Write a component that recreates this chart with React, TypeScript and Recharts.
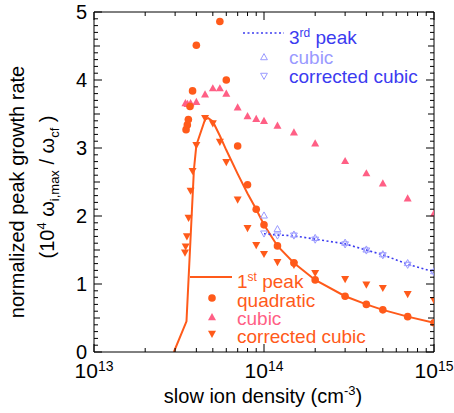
import React from "react"
import { ComposedChart, Line, Scatter, XAxis, YAxis } from "recharts"

const FONT = '"Liberation Sans", Arial, Helvetica, sans-serif'
const ORANGE = "#ff5a1a"
const PINK = "#ff5f85"
const LAVENDER = "#9a9aff"
const BLUE = "#3b3bf0"

// axes
const X_DECADES = [1e13, 1e14]
const X_MANTISSAS = [1, 2, 3, 4, 5, 6, 7, 8, 9]

// 1st peak (solid curve)
const peak1Density = [2.95e13, 3.5e13, 3.87e13, 4e13, 4.5e13, 4.7e13, 5e13, 5.5e13, 6e13, 7e13, 8e13, 9e13, 1e14, 1.2e14, 1.5e14, 2e14, 3e14, 4e14, 5e14, 7e14, 1e15]
const peak1Rate = [0, 0.45, 2.68, 3.04, 3.42, 3.44, 3.39, 3.18, 2.97, 2.62, 2.33, 2.1, 1.87, 1.56, 1.31, 1.06, 0.82, 0.7, 0.62, 0.52, 0.43]

// 1st peak, quadratic
const quadDensity = [3.48e13, 3.54e13, 3.59e13, 3.67e13, 3.8e13, 4e13, 5.5e13, 6e13, 7e13, 8e13, 9e13, 1e14, 1.2e14, 1.5e14, 2e14, 3e14, 4e14, 5e14, 7e14, 1e15]
const quadRate = [3.27, 3.34, 3.42, 3.61, 3.84, 4.51, 4.86, 4.0, 3.03, 2.46, 2.1, 1.87, 1.56, 1.31, 1.06, 0.82, 0.7, 0.62, 0.52, 0.43]

// 1st peak, cubic
const cubicDensity = [3.45e13, 3.55e13, 3.7e13, 4e13, 4.5e13, 5e13, 5.5e13, 6e13, 7e13, 8e13, 9e13, 1e14, 1.2e14, 1.5e14, 2e14, 3e14, 4e14, 5e14, 7e14, 1e15]
const cubicRate = [3.66, 3.65, 3.66, 3.68, 3.79, 3.88, 3.88, 3.8, 3.6, 3.47, 3.43, 3.4, 3.33, 3.23, 3.07, 2.81, 2.63, 2.48, 2.26, 2.04]

// 1st peak, corrected cubic
const corrDensity = [3.43e13, 3.46e13, 3.52e13, 3.6e13, 3.7e13, 3.8e13, 4e13, 4.5e13, 5e13, 5.5e13, 6e13, 7e13, 8e13, 9e13, 1e14, 1.2e14, 1.5e14, 2e14, 3e14, 4e14, 5e14, 7e14, 1e15]
const corrRate = [1.46, 1.55, 1.7, 1.97, 2.37, 2.66, 3.04, 3.44, 3.36, 3.09, 2.79, 2.24, 1.82, 1.57, 1.44, 1.32, 1.28, 1.16, 1.07, 0.99, 0.94, 0.85, 0.76]

// 3rd peak
const peak3Density = [1e14, 1.2e14, 1.5e14, 2e14, 3e14, 4e14, 5e14, 7e14, 1e15]
const peak3Rate = [1.74, 1.72, 1.71, 1.66, 1.59, 1.5, 1.43, 1.29, 1.18]
const cubic3Rate = [2.01, 1.81, 1.73, 1.68, 1.61, 1.51, 1.44, 1.31, 1.19]
const corr3Rate = [1.74, 1.71, 1.71, 1.65, 1.58, 1.49, 1.42, 1.28, 1.17]

const zip = (xs: number[], ys: number[]) => xs.map((x, i) => ({ x, y: ys[i] }))

const X_TICKS = [...X_DECADES.flatMap((d) => X_MANTISSAS.map((m) => m * d)), 1e15]
const Y_TICKS: number[] = []
for (let i = 0; i <= 50; i++) Y_TICKS.push(i / 10)

const isDecade = (v: number) => Math.abs(Math.log10(v) - Math.round(Math.log10(v))) < 1e-6
const yTickLen = (v: number) => {
  const t = Math.round(v * 10)
  if (t % 10 === 0) return 8
  if (t % 5 === 0) return 6
  return 4
}

// ticks point inwards: each custom tick draws a thin bar plus its label
function BottomTick({ x, y, payload }: any) {
  const v = payload.value
  const major = isDecade(v)
  const len = major ? 8 : 4
  return (
    <g>
      <rect x={x - 0.5} y={y - len} width={1} height={len} fill="#000" />
      {major && (
        <text x={x} y={y + 26} textAnchor="middle" fontSize={21} fontFamily={FONT} fill="#000">
          10<tspan dy={-7} fontSize={14}>{Math.round(Math.log10(v))}</tspan>
        </text>
      )}
    </g>
  )
}

function TopTick({ x, y, payload }: any) {
  const len = isDecade(payload.value) ? 8 : 4
  return <rect x={x - 0.5} y={y} width={1} height={len} fill="#000" />
}

function LeftTick({ x, y, payload }: any) {
  const v = payload.value
  const major = Math.round(v * 10) % 10 === 0
  return (
    <g>
      <rect x={x} y={y - 0.5} width={yTickLen(v)} height={1} fill="#000" />
      {major && (
        <text x={x - 7} y={y + 7} textAnchor="end" fontSize={20} fontFamily={FONT} fill="#000">
          {Math.round(v)}
        </text>
      )}
    </g>
  )
}

function RightTick({ x, y, payload }: any) {
  const len = yTickLen(payload.value)
  return <rect x={x - len} y={y - 0.5} width={len} height={1} fill="#000" />
}

const Dot = ({ cx, cy, r = 3.8 }: any) => <circle cx={cx} cy={cy} r={r} fill={ORANGE} />
const TriUp = ({ cx, cy, fill, stroke, s = 4 }: any) => (
  <polygon
    points={`${cx},${cy - s} ${cx + s},${cy + s * 0.8} ${cx - s},${cy + s * 0.8}`}
    fill={fill || "none"}
    stroke={stroke || "none"}
  />
)
const TriDown = ({ cx, cy, fill, stroke, s = 4 }: any) => (
  <polygon
    points={`${cx - s},${cy - s * 0.8} ${cx + s},${cy - s * 0.8} ${cx},${cy + s}`}
    fill={fill || "none"}
    stroke={stroke || "none"}
  />
)

export default function App() {
  const axisProps = { xAxisId: "b", yAxisId: "l" }
  return (
    <div style={{ position: "absolute", left: 0, top: 0, width: 454, height: 413, background: "#fff" }}>
      <ComposedChart width={454} height={413} margin={{ top: 11, right: 19, bottom: 31, left: 34 }}>
        <XAxis
          xAxisId="b"
          type="number"
          dataKey="x"
          scale="log"
          domain={[1e13, 1e15]}
          allowDataOverflow
          ticks={X_TICKS}
          interval={0}
          tickSize={0}
          tickMargin={0}
          tickLine={false}
          height={30}
          stroke="#000"
          tick={(p: any) => <BottomTick {...p} />}
        />
        <XAxis
          xAxisId="t"
          orientation="top"
          type="number"
          dataKey="x"
          scale="log"
          domain={[1e13, 1e15]}
          allowDataOverflow
          ticks={X_TICKS}
          interval={0}
          tickSize={0}
          tickMargin={0}
          tickLine={false}
          height={1}
          stroke="#000"
          tick={(p: any) => <TopTick {...p} />}
        />
        <YAxis
          yAxisId="l"
          type="number"
          dataKey="y"
          domain={[0, 5]}
          allowDataOverflow
          ticks={Y_TICKS}
          interval={0}
          tickSize={0}
          tickMargin={0}
          tickLine={false}
          width={60}
          stroke="#000"
          tick={(p: any) => <LeftTick {...p} />}
        />
        <YAxis
          yAxisId="r"
          orientation="right"
          type="number"
          dataKey="y"
          domain={[0, 5]}
          allowDataOverflow
          ticks={Y_TICKS}
          interval={0}
          tickSize={0}
          tickMargin={0}
          tickLine={false}
          width={1}
          stroke="#000"
          tick={(p: any) => <RightTick {...p} />}
        />

        <Scatter
          {...axisProps}
          data={zip(cubicDensity, cubicRate)}
          isAnimationActive={false}
          shape={(p: any) => <TriUp cx={p.cx} cy={p.cy} fill={PINK} />}
        />
        <Scatter
          {...axisProps}
          data={zip(corrDensity, corrRate)}
          isAnimationActive={false}
          shape={(p: any) => <TriDown cx={p.cx} cy={p.cy} fill={ORANGE} />}
        />
        <Line
          {...axisProps}
          data={zip(peak1Density, peak1Rate)}
          dataKey="y"
          type="linear"
          stroke={ORANGE}
          strokeWidth={2}
          dot={false}
          isAnimationActive={false}
        />
        <Scatter
          {...axisProps}
          data={zip(quadDensity, quadRate)}
          isAnimationActive={false}
          shape={(p: any) => <Dot cx={p.cx} cy={p.cy} />}
        />
        <Line
          {...axisProps}
          data={zip(peak3Density, peak3Rate)}
          dataKey="y"
          type="linear"
          stroke={BLUE}
          strokeWidth={1.6}
          strokeDasharray="2 2.5"
          dot={false}
          isAnimationActive={false}
        />
        <Scatter
          {...axisProps}
          data={zip(peak3Density, cubic3Rate)}
          isAnimationActive={false}
          shape={(p: any) => <TriUp cx={p.cx} cy={p.cy} stroke={LAVENDER} s={3.4} />}
        />
        <Scatter
          {...axisProps}
          data={zip(peak3Density, corr3Rate)}
          isAnimationActive={false}
          shape={(p: any) => <TriDown cx={p.cx} cy={p.cy} stroke={LAVENDER} s={3.4} />}
        />
      </ComposedChart>

      <svg
        width={454}
        height={413}
        style={{ position: "absolute", left: 0, top: 0, pointerEvents: "none" }}
        fontFamily={FONT}
      >
        {/* axis titles */}
        <text x={263} y={403} textAnchor="middle" fontSize={20} fill="#000">
          slow ion density (cm<tspan dy={-8} fontSize={13}>-3</tspan>
          <tspan dy={8}>)</tspan>
        </text>
        <text x={-192} y={24} transform="rotate(-90)" textAnchor="middle" fontSize={20} fill="#000">
          normalized peak growth rate
        </text>
        <text x={-187} y={54} transform="rotate(-90)" textAnchor="middle" fontSize={20} fill="#000">
          (10<tspan dy={-8} fontSize={13}>4</tspan>
          <tspan dy={8}> ω</tspan>
          <tspan dy={5} fontSize={13}>i,max</tspan>
          <tspan dy={-5}> / ω</tspan>
          <tspan dy={5} fontSize={13}>cf</tspan>
          <tspan dy={-5}> )</tspan>
        </text>

        {/* 3rd peak legend */}
        <line x1={243} x2={284} y1={33} y2={33} stroke={BLUE} strokeWidth={1.6} strokeDasharray="2 2.5" />
        <text x={289} y={44} fontSize={19} fill={BLUE}>
          3<tspan dy={-7} fontSize={12}>rd</tspan>
          <tspan dy={7}> peak</tspan>
        </text>
        <TriUp cx={264} cy={57} stroke={LAVENDER} s={3.4} />
        <text x={289} y={64} fontSize={19} fill={LAVENDER}>cubic</text>
        <TriDown cx={264} cy={76} stroke={LAVENDER} s={3.4} />
        <text x={289} y={83} fontSize={19} fill={BLUE}>corrected cubic</text>

        {/* 1st peak legend */}
        <line x1={190} x2={232} y1={277} y2={277} stroke={ORANGE} strokeWidth={2} />
        <text x={237} y={288} fontSize={19} fill={ORANGE}>
          1<tspan dy={-7} fontSize={12}>st</tspan>
          <tspan dy={7}> peak</tspan>
        </text>
        <Dot cx={212} cy={298} />
        <text x={237} y={307} fontSize={19} fill={ORANGE}>quadratic</text>
        <TriUp cx={212} cy={317} fill={PINK} />
        <text x={237} y={325} fontSize={19} fill={PINK}>cubic</text>
        <TriDown cx={212} cy={334} fill={ORANGE} />
        <text x={237} y={343} fontSize={19} fill={ORANGE}>corrected cubic</text>
      </svg>
    </div>
  )
}
